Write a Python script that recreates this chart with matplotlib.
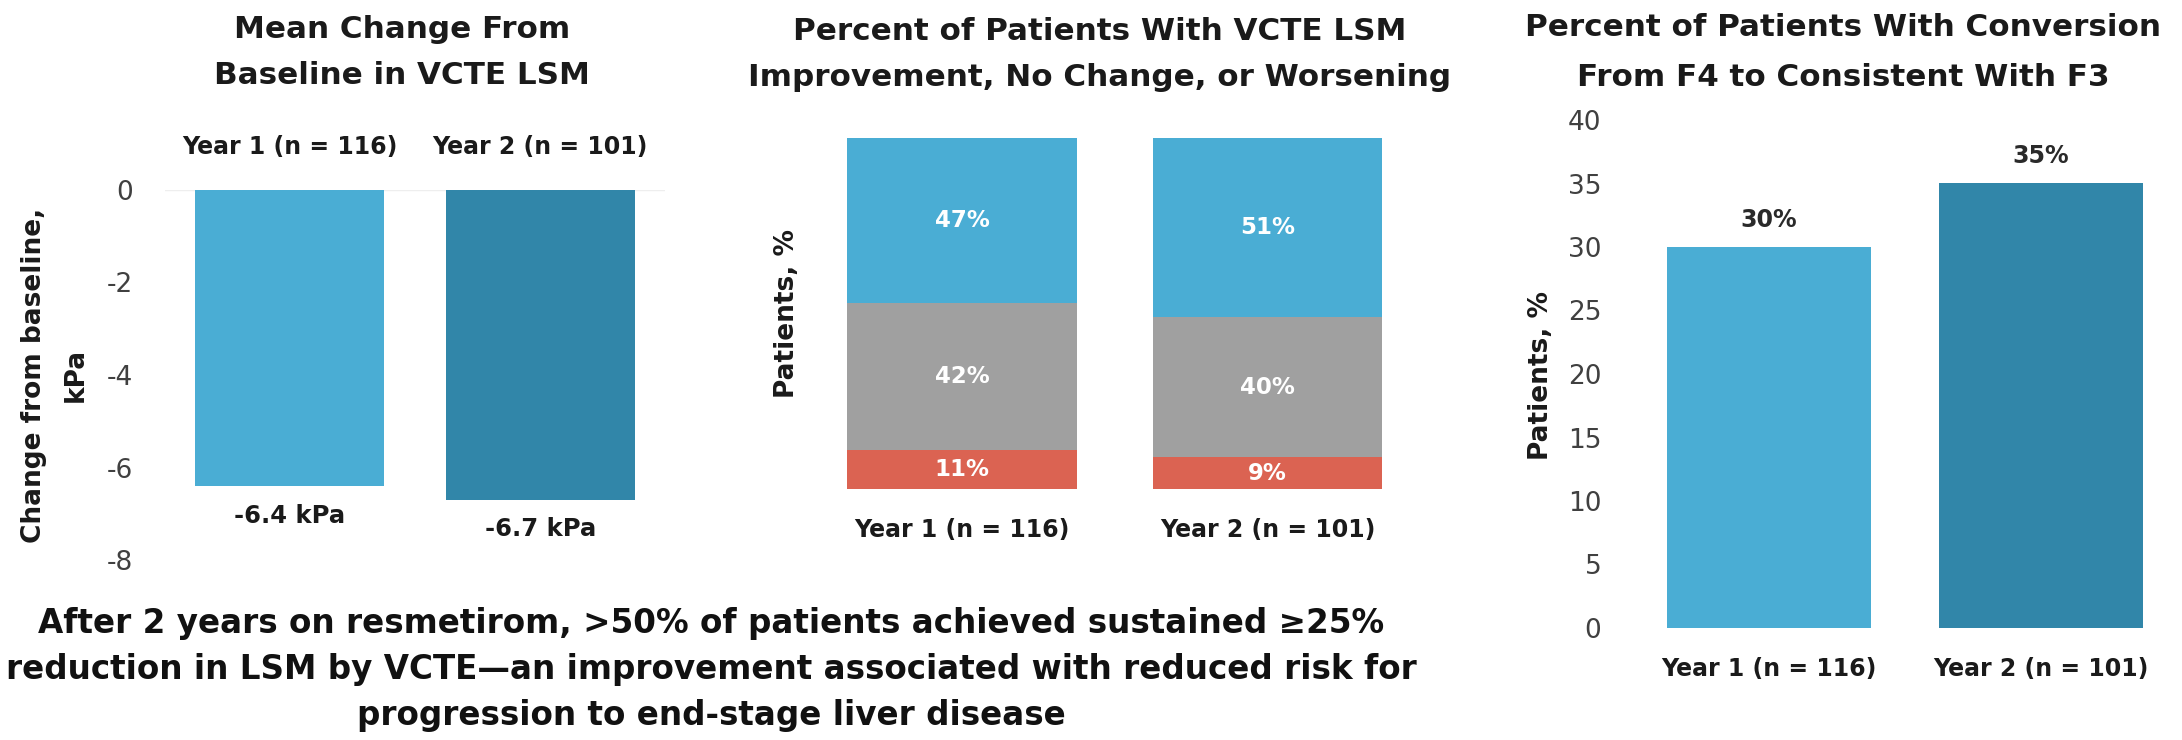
import matplotlib
matplotlib.use("Agg")
import matplotlib.pyplot as plt

plt.rcParams['font.family'] = ['DejaVu Sans']

W, H = 2182, 740

years = ["Year 1 (n = 116)", "Year 2 (n = 101)"]

# panel 1: mean change in LSM (kPa)
mean_change = [-6.4, -6.7]
mean_labels = ["-6.4 kPa", "-6.7 kPa"]

# panel 2: improvement / no change / worsening (%)
worsening = [11, 9]
no_change = [42, 40]
improvement = [47, 51]

# panel 3: conversion F4 -> F3 (%)
conversion = [30, 35]

LIGHT = "#4AADD4"
DARK = "#3186A9"
GRAY = "#A0A0A0"
RED = "#DB6352"
TXT = "#1A1A1A"
TICK = "#404040"

TITLE_FS = 22.3
YEAR_FS = 17
TICK_FS = 19
YLAB_FS = 19


def box(x0, y0, x1, y1):
    return [x0 / W, 1 - y1 / H, (x1 - x0) / W, (y1 - y0) / H]


def clean(ax):
    for s in ax.spines.values():
        s.set_visible(False)
    ax.tick_params(length=0)


def title(xc, ys, lines):
    for y, line in zip(ys, lines):
        fig.text(xc / W, 1 - y / H, line, ha="center", va="center",
                 fontsize=TITLE_FS, fontweight="bold", color=TXT)


fig = plt.figure(figsize=(W / 100, H / 100), dpi=100)

# ---- panel 1
ax1 = fig.add_axes(box(164.5, 190, 665.5, 560))
ax1.bar([0, 1], mean_change, width=0.755, color=[LIGHT, DARK])
ax1.axhline(0, color="#EEEEEE", lw=1, zorder=0)
ax1.set_xlim(-0.5, 1.5)
ax1.set_ylim(-8, 0)
ax1.set_xticks([])
ax1.set_yticks([0, -2, -4, -6, -8])
ax1.set_yticklabels(["0", "-2", "-4", "-6", "-8"], fontsize=TICK_FS, color=TICK)
ax1.tick_params(axis="y", pad=23)
clean(ax1)
for i, lab in enumerate(years):
    ax1.text(i, 0.93, lab, ha="center", va="center", fontsize=YEAR_FS,
             fontweight="bold", color=TXT)
for i, (v, lab) in enumerate(zip(mean_change, mean_labels)):
    ax1.text(i, v - 0.64, lab, ha="center", va="center", fontsize=17.5,
             fontweight="bold", color=TXT)
fig.text(34 / W, 1 - 375 / H, "Change from baseline,", rotation=90,
         ha="center", va="center", fontsize=YLAB_FS, fontweight="bold", color=TXT)
fig.text(76 / W, 1 - 375 / H, "kPa", rotation=90,
         ha="center", va="center", fontsize=YLAB_FS, fontweight="bold", color=TXT)
title(402, [29, 76], ["Mean Change From", "Baseline in VCTE LSM"])

# ---- panel 2
ax2 = fig.add_axes(box(778.7, 138, 1450.8, 489))
x = [0, 1]
b1 = ax2.bar(x, worsening, width=0.75, color=RED)
b2 = ax2.bar(x, no_change, width=0.75, bottom=worsening, color=GRAY)
im_bottom = [a + b for a, b in zip(worsening, no_change)]
b3 = ax2.bar(x, improvement, width=0.75, bottom=im_bottom, color=LIGHT)
for bars, vals in ((b1, worsening), (b2, no_change), (b3, improvement)):
    ax2.bar_label(bars, labels=[f"{v}%" for v in vals], label_type="center",
                  fontsize=16.5, fontweight="bold", color="white")
ax2.set_xlim(-0.6, 1.6)
ax2.set_ylim(0, 100)
ax2.set_yticks([])
ax2.set_xticks(x)
ax2.set_xticklabels(years, fontsize=YEAR_FS, fontweight="bold", color=TXT)
ax2.tick_params(axis="x", pad=21)
clean(ax2)
fig.text(787 / W, 1 - 313 / H, "Patients, %", rotation=90, ha="center",
         va="center", fontsize=YLAB_FS, fontweight="bold", color=TXT)
title(1100, [32, 78], ["Percent of Patients With VCTE LSM",
                       "Improvement, No Change, or Worsening"])

# ---- panel 3
ax3 = fig.add_axes(box(1614, 120, 2176.6, 628))
ax3.bar([0, 1], conversion, width=0.75, color=[LIGHT, DARK])
for i, v in enumerate(conversion):
    ax3.text(i, v + 2.15, f"{v}%", ha="center", va="center", fontsize=17,
             fontweight="bold", color="#2A2A2A")
ax3.set_xlim(-0.57, 1.5)
ax3.set_ylim(0, 40)
ax3.set_yticks(range(0, 41, 5))
ax3.set_yticklabels([str(v) for v in range(0, 41, 5)], fontsize=TICK_FS, color=TICK)
ax3.tick_params(axis="y", pad=9)
ax3.set_xticks([0, 1])
ax3.set_xticklabels(years, fontsize=YEAR_FS, fontweight="bold", color=TXT)
ax3.tick_params(axis="x", pad=21)
clean(ax3)
fig.text(1541 / W, 1 - 375 / H, "Patients, %", rotation=90, ha="center",
         va="center", fontsize=YLAB_FS, fontweight="bold", color=TXT)
title(1843, [28, 78], ["Percent of Patients With Conversion",
                       "From F4 to Consistent With F3"])

# ---- footer message
footer = [
    "After 2 years on resmetirom, >50% of patients achieved sustained \u226525%",
    "reduction in LSM by VCTE\u2014an improvement associated with reduced risk for",
    "progression to end-stage liver disease",
]
for line, y in zip(footer, [623, 669, 715]):
    fig.text(711 / W, 1 - y / H, line, ha="center", va="center", fontsize=23.5,
             fontweight="bold", color="#111111")

fig.savefig("out.png", dpi=100, facecolor="white")
